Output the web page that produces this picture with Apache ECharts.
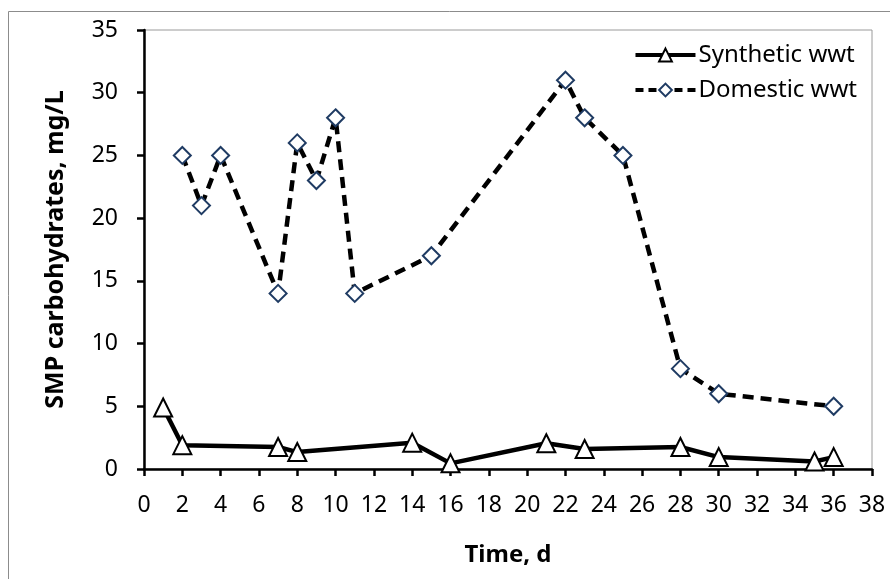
<!DOCTYPE html>
<html><head><meta charset="utf-8">
<script src="https://cdn.jsdelivr.net/npm/echarts@6/dist/echarts.min.js"></script>
<style>html,body{margin:0;padding:0;background:#fff}#c{width:890px;height:579px}</style>
</head><body><div id="c"></div>
<script>
const synDays = [1, 2, 7, 8, 14, 16, 21, 23, 28, 30, 35, 36];
const synVals = [4.9, 1.9, 1.75, 1.35, 2.1, 0.45, 2.05, 1.6, 1.75, 0.95, 0.6, 0.95];
const domDays = [2, 3, 4, 7, 8, 9, 10, 11, 15, 22, 23, 25, 28, 30, 36];
const domVals = [25, 21, 25, 14, 26, 23, 28, 14, 17, 31, 28, 25, 8, 6, 5];
const xTicks = {min: 0, max: 38, interval: 2};
const yTicks = {min: 0, max: 35, interval: 5};
const seriesNames = ['Synthetic wwt', 'Domestic wwt'];
const xTitle = 'Time, d';
const yTitle = 'SMP carbohydrates, mg/L';

const font = 'Noto Sans';
const chart = echarts.init(document.getElementById('c'));
chart.setOption({
  animation: false,
  graphic: [{type: 'rect', shape: {x: 8.5, y: 11.5, width: 900, height: 600}, style: {fill: 'none', stroke: '#8c8c8c', lineWidth: 1}, z: -1}],
  grid: {left: 144, right: 18, top: 30, bottom: 110, show: true, borderColor: '#9a9a9a', borderWidth: 1},
  legend: {
    right: 28, top: 38, orient: 'vertical', itemGap: 11, itemWidth: 60, itemHeight: 16,
    textStyle: {fontFamily: font, fontSize: 24, color: '#000', padding: [0, 0, 0, -2]},
    lineStyle: {width: 4},
    data: [
      {name: seriesNames[0], lineStyle: {width: 4, type: 'solid'}},
      {name: seriesNames[1], lineStyle: {width: 4, type: [8, 5]}}
    ]
  },
  xAxis: {
    type: 'value', min: xTicks.min, max: xTicks.max, interval: xTicks.interval,
    name: xTitle, nameLocation: 'middle', nameGap: 74,
    nameTextStyle: {fontFamily: font, fontSize: 24, fontWeight: 'bold', color: '#000'},
    axisLine: {lineStyle: {color: '#000', width: 2.5}},
    axisTick: {show: true, length: 7, lineStyle: {color: '#000', width: 2.5}},
    axisLabel: {fontFamily: font, fontSize: 23, color: '#000', margin: 25},
    splitLine: {show: false}
  },
  yAxis: {
    type: 'value', min: yTicks.min, max: yTicks.max, interval: yTicks.interval,
    name: yTitle, nameLocation: 'middle', nameGap: 76, nameRotate: 90,
    nameTextStyle: {fontFamily: font, fontSize: 25, fontWeight: 'bold', color: '#000'},
    axisLine: {show: true, lineStyle: {color: '#000', width: 2.5}},
    axisTick: {show: true, inside: false, length: 7, lineStyle: {color: '#000', width: 2.5}},
    axisLabel: {fontFamily: font, fontSize: 23, color: '#000', margin: 26},
    splitLine: {show: false}
  },
  series: [
    {
      name: seriesNames[0], type: 'line',
      data: synDays.map((d, i) => [d, synVals[i]]),
      symbol: 'triangle', symbolSize: 18,
      lineStyle: {color: '#000', width: 4.5},
      itemStyle: {color: '#fff', borderColor: '#000', borderWidth: 2},
      z: 3
    },
    {
      name: seriesNames[1], type: 'line',
      data: domDays.map((d, i) => [d, domVals[i]]),
      symbol: 'diamond', symbolSize: 17,
      lineStyle: {color: '#000', width: 4.5, type: [11, 7]},
      itemStyle: {color: '#fff', borderColor: '#1f3b63', borderWidth: 2},
      z: 3
    }
  ]
});
</script></body></html>
